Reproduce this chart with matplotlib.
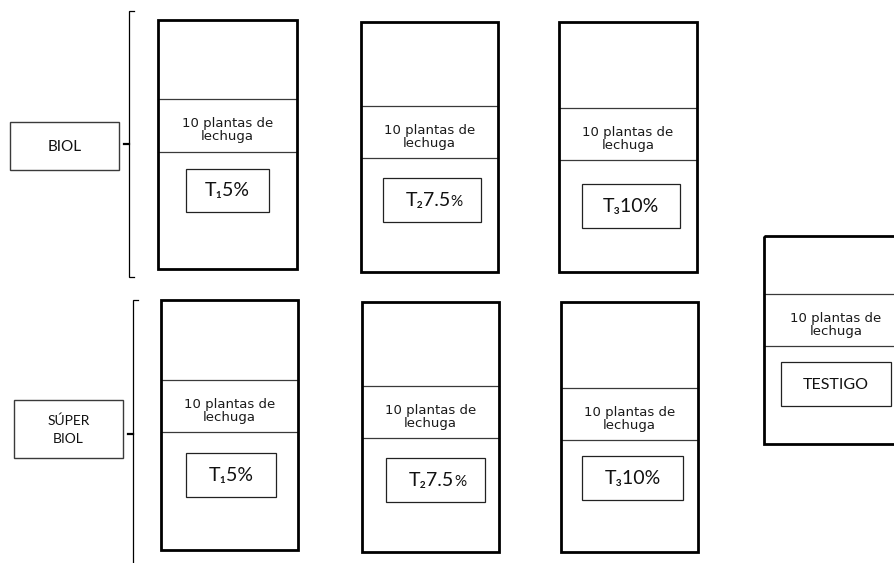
import matplotlib
matplotlib.use("Agg")
import matplotlib.pyplot as plt
from matplotlib.patches import Rectangle

# ---- content ----
groups = ["BIOL", "SÚPER\nBIOL"]
treatments = ["T\u20815", "T\u20827.5", "T\u208310"]
percent_small = [False, True, False]     # the "%" of 7.5 % is set smaller
plants_line1 = "10 plantas de"
plants_line2 = "lechuga"
control_label = "TESTIGO"

# ---- layout (pixel coordinates, y downward) ----
W, H = 894, 563
# [left, right, top, divider1, divider2, bottom, inner_left, inner_right, inner_top, inner_bottom]
plots_top = [
    [158, 297, 20, 99, 152, 269, 186, 269, 169, 212],
    [361, 498, 22, 106, 158, 272, 383, 481, 178, 222],
    [559, 697, 22, 108, 160, 272, 582, 680, 184, 228],
]
plots_bottom = [
    [161, 298, 300, 380, 432, 550, 186, 276, 453, 497],
    [362, 499, 302, 386, 438, 552, 386, 485, 458, 502],
    [561, 698, 302, 388, 440, 552, 582, 683, 456, 500],
]
plot_control = [764, 905, 236, 294, 346, 444, 781, 891, 362, 406]

group_boxes = [[10, 119, 122, 170], [14, 123, 400, 458]]   # left, right, top, bottom
brackets = [[129, 11, 277, 144], [133, 300, 575, 434]]     # x, top, bottom, tick_y

SANS = ["Lato", "DejaVu Sans"]
VERD = ["DejaVu Sans"]

fig = plt.figure(figsize=(W / 100, H / 100), dpi=100)
ax = fig.add_axes([0, 0, 1, 1])
ax.set_xlim(0, W)
ax.set_ylim(H, 0)
ax.axis("off")


def rect(x0, x1, y0, y1, lw, color="black", z=2):
    r = Rectangle((x0, y0), x1 - x0, y1 - y0, fill=False, lw=lw,
                  edgecolor=color, zorder=z)
    ax.add_patch(r)
    return r


def draw_plot(p, label, small_pct=None):
    l, r, t, d1, d2, b, il, ir, it, ib = p
    rect(l, r, t, b, 2.0, "black", 3)
    ax.plot([l, r], [d1, d1], color="#3a3a3a", lw=0.9, zorder=2)
    ax.plot([l, r], [d2, d2], color="#3a3a3a", lw=0.9, zorder=2)
    cx = (l + r) / 2 if r <= W else (il + ir) / 2
    ax.text(cx, d1 + 28, plants_line1, ha="center", va="baseline",
            fontsize=9.5, family=VERD, color="#1a1a1a")
    t2 = ax.text(cx, d1 + 41, plants_line2, ha="center", va="baseline",
                 fontsize=9.5, family=VERD, color="#1a1a1a")
    clip = Rectangle((l, d1), r - l, 40.5, transform=ax.transData)
    t2.set_clip_path(clip)
    rect(il, ir, it, ib, 0.9, "#222222", 2)
    icx, icy = (il + ir) / 2, (it + ib) / 2 + 6
    if small_pct is None:
        ax.text(icx, icy - 1, label, ha="center", va="baseline",
                fontsize=11.5, family=SANS, color="#111111")
    elif small_pct:
        tm = ax.text(icx - 4, icy, label, ha="center", va="baseline",
                     fontsize=14, family=SANS, color="#111111")
        ax.annotate("%", xy=(1, 0), xycoords=tm, ha="left", va="bottom",
                    fontsize=11, family=SANS, color="#111111")
    else:
        ax.text(icx, icy, label + "%", ha="center", va="baseline",
                fontsize=14, family=SANS, color="#111111")


for p, lab, sp in zip(plots_top, treatments, percent_small):
    draw_plot(p, lab, sp)
for p, lab, sp in zip(plots_bottom, treatments, percent_small):
    draw_plot(p, lab, sp)
draw_plot(plot_control, control_label)

for (l, r, t, b), g in zip(group_boxes, groups):
    rect(l, r, t, b, 1.0, "#3a3a3a", 2)
    ax.text((l + r) / 2, (t + b) / 2 + 1, g, ha="center", va="center",
            fontsize=11 if "\n" not in g else 10, family=SANS,
            linespacing=1.6, color="#111111")

for x, t, b, ty in brackets:
    ax.plot([x + 5, x, x, x + 5], [t, t, b, b], color="black", lw=0.9,
            zorder=2, solid_joinstyle="miter")
    ax.plot([x - 5, x], [ty, ty], color="black", lw=1.6, zorder=2)

fig.savefig("out.png", dpi=100)
